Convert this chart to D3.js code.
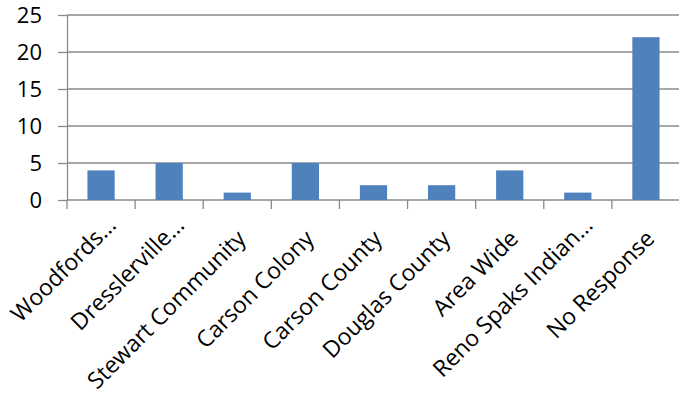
<!DOCTYPE html>
<html>
<head>
<meta charset="utf-8">
<script src="https://cdn.jsdelivr.net/npm/d3@7"></script>
<style>
  body { margin: 0; background: #fff; }
  svg { display: block; }
  text { font-family: "Open Sans", "Lato", sans-serif; fill: #000; }
</style>
</head>
<body>
<svg id="chart" width="679" height="396"></svg>
<script>
// Responses by community
const categories = [
  "Woodfords…",
  "Dresslerville…",
  "Stewart Community",
  "Carson Colony",
  "Carson County",
  "Douglas County",
  "Area Wide",
  "Reno Spaks Indian…",
  "No Response"
];
const counts = [4, 5, 1, 5, 2, 2, 4, 1, 22];
const yTicks = [0, 5, 10, 15, 20, 25];

const svg = d3.select("#chart");
const plot = { left: 67, right: 680, top: 15, bottom: 200 };
const gridColor = "#8a8a8a";
const barColor = "#4f81bd";
const tickFont = 22;
const labelFont = 23;

const x = d3.scaleBand()
  .domain(categories)
  .range([plot.left, plot.right])
  .paddingInner(0.6)
  .paddingOuter(0.3);

const y = d3.scaleLinear()
  .domain([0, 25])
  .range([plot.bottom, plot.top]);

// horizontal gridlines
svg.append("g")
  .selectAll("line")
  .data(yTicks)
  .join("line")
  .attr("x1", plot.left)
  .attr("x2", plot.right)
  .attr("y1", d => y(d))
  .attr("y2", d => y(d))
  .attr("stroke", gridColor)
  .attr("stroke-width", 1.3);

// value axis
const yAxis = svg.append("g")
  .attr("transform", `translate(${plot.left},0)`)
  .call(d3.axisLeft(y).tickValues(yTicks).tickSize(9).tickSizeOuter(0).tickPadding(16));
yAxis.select(".domain").attr("stroke", gridColor).attr("stroke-width", 1.3);
yAxis.selectAll(".tick line").attr("stroke", gridColor).attr("stroke-width", 1.3);
yAxis.selectAll(".tick text")
  .attr("font-size", tickFont)
  .attr("font-family", null)
  .attr("fill", "#000")
  .attr("dy", "0.34em");

// category boundary ticks under the baseline
const step = x.step();
const boundaries = d3.range(categories.length + 1).map(i => plot.left + i * step);
svg.append("g")
  .selectAll("line")
  .data(boundaries)
  .join("line")
  .attr("x1", d => d)
  .attr("x2", d => d)
  .attr("y1", plot.bottom)
  .attr("y2", plot.bottom + 9)
  .attr("stroke", gridColor)
  .attr("stroke-width", 1.3);

// bars
svg.append("g")
  .selectAll("rect")
  .data(categories.map((c, i) => ({ c, v: counts[i] })))
  .join("rect")
  .attr("x", d => x(d.c))
  .attr("width", x.bandwidth())
  .attr("y", d => y(d.v))
  .attr("height", d => y(0) - y(d.v))
  .attr("fill", barColor);

// rotated category labels
svg.append("g")
  .selectAll("text")
  .data(categories)
  .join("text")
  .attr("transform", d => `translate(${x(d) + x.bandwidth() / 2 + 10},240) rotate(-45)`)
  .attr("text-anchor", "end")
  .attr("font-size", labelFont)
  .attr("dx", d => d.endsWith("…") ? 14 : 0)
  .attr("dy", d => d.endsWith("…") ? -5 : 0)
  .text(d => d);
</script>
</body>
</html>
